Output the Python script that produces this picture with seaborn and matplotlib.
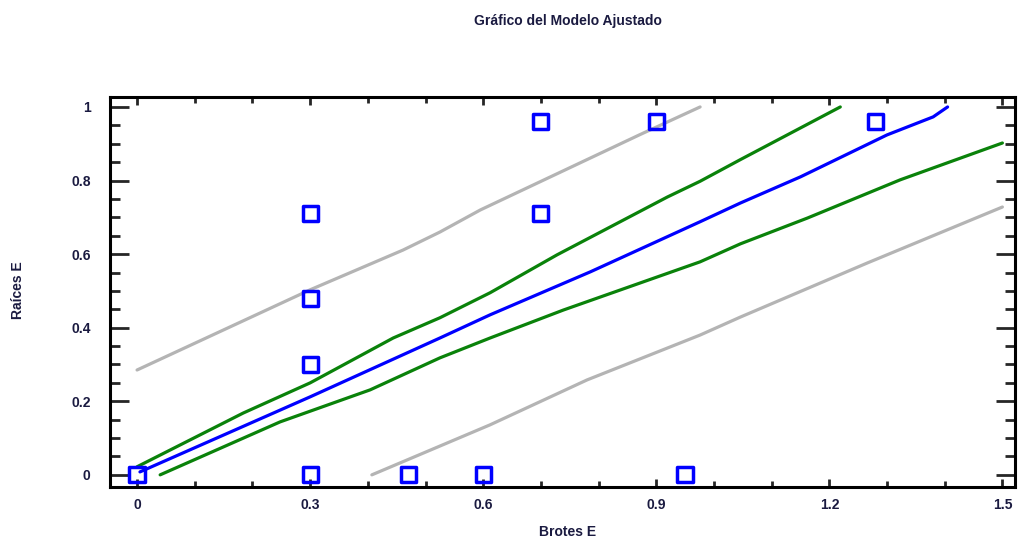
#!/usr/bin/env python
# -*- coding: utf-8 -*-
"""
Gráfico del Modelo Ajustado - Brotes E vs Raíces E
"""

import matplotlib
matplotlib.use("Agg")
import matplotlib.pyplot as plt
from matplotlib.ticker import MultipleLocator, FuncFormatter
import pandas as pd
import seaborn as sns

# =============================================
# 1. Datos
# =============================================
obs_x = [0.0, 0.3, 0.3, 0.3, 0.3, 0.47, 0.6, 0.7, 0.7, 0.9, 0.95, 1.28]
obs_y = [0.0, 0.0, 0.3, 0.48, 0.71, 0.0, 0.0, 0.71, 0.96, 0.96, 0.0, 0.96]

fit_x = [0.005, 0.30, 0.525, 0.612, 0.786, 0.976, 1.046, 1.15, 1.30, 1.38, 1.405]
fit_y = [0.008, 0.212, 0.372, 0.435, 0.552, 0.688, 0.739, 0.81, 0.924, 0.973, 1.0]

conf_hi_x = [0.0, 0.184, 0.30, 0.444, 0.525, 0.612, 0.728, 0.919, 0.976, 1.046, 1.092, 1.219]
conf_hi_y = [0.022, 0.168, 0.25, 0.372, 0.427, 0.495, 0.598, 0.755, 0.798, 0.857, 0.895, 1.0]

conf_lo_x = [0.04, 0.248, 0.404, 0.525, 0.612, 0.739, 0.976, 1.046, 1.162, 1.323, 1.5]
conf_lo_y = [0.0, 0.144, 0.231, 0.318, 0.372, 0.448, 0.579, 0.628, 0.698, 0.802, 0.902]

pred_hi_x = [0.0, 0.30, 0.461, 0.525, 0.595, 0.872, 0.976]
pred_hi_y = [0.285, 0.503, 0.611, 0.66, 0.72, 0.925, 1.0]

pred_lo_x = [0.407, 0.612, 0.78, 0.976, 1.046, 1.266, 1.5]
pred_lo_y = [0.0, 0.136, 0.258, 0.38, 0.429, 0.576, 0.728]

x_ticks = [0, 0.3, 0.6, 0.9, 1.2, 1.5]
y_ticks = [0, 0.2, 0.4, 0.6, 0.8, 1]

# =============================================
# 2. Estilo
# =============================================
sns.set_style("ticks")
plt.rcParams['font.family'] = ['Liberation Sans', 'DejaVu Sans']
plt.rcParams['font.weight'] = 'bold'

fig = plt.figure(figsize=(10.21, 5.42), dpi=100)
ax = fig.add_axes([0.1077, 0.1015, 0.8865, 0.7195])

# =============================================
# 3. Líneas
# =============================================
GRAY = "#b4b4b4"
GREEN = "#0a820a"
BLUE = "#0000ff"

for xs, ys, col in [(pred_hi_x, pred_hi_y, GRAY), (pred_lo_x, pred_lo_y, GRAY),
                    (conf_hi_x, conf_hi_y, GREEN), (conf_lo_x, conf_lo_y, GREEN),
                    (fit_x, fit_y, BLUE)]:
    df_line = pd.DataFrame({"x": xs, "y": ys})
    sns.lineplot(data=df_line, x="x", y="y", ax=ax, color=col, lw=2.3,
                 sort=False, estimator=None)

df_obs = pd.DataFrame({"x": obs_x, "y": obs_y})
sns.scatterplot(data=df_obs, x="x", y="y", ax=ax, marker="s", s=120,
                facecolors="none", edgecolor=BLUE, linewidth=2.5, zorder=5)

# =============================================
# 4. Ejes
# =============================================
ax.set_xlim(-0.047, 1.522)
ax.set_ylim(-0.033, 1.027)
ax.set_xticks(x_ticks)
ax.set_yticks(y_ticks)
ax.xaxis.set_minor_locator(MultipleLocator(0.1))
ax.yaxis.set_minor_locator(MultipleLocator(0.05))
fmt = FuncFormatter(lambda v, p: f"{v:g}")
ax.xaxis.set_major_formatter(fmt)
ax.yaxis.set_major_formatter(fmt)

ax.tick_params(axis="x", which="major", direction="in", length=6, width=2,
               top=True, bottom=True, labelsize=10, pad=8)
ax.tick_params(axis="x", which="minor", direction="in", length=4, width=2,
               top=True, bottom=True)
ax.tick_params(axis="y", which="major", direction="in", length=14, width=2,
               left=True, right=True, labelsize=10, pad=14)
ax.tick_params(axis="y", which="minor", direction="in", length=7, width=2,
               left=True, right=True)
for lab in ax.get_xticklabels() + ax.get_yticklabels():
    lab.set_fontweight("bold")
    lab.set_color("#1a1a40")

for sp in ax.spines.values():
    sp.set_visible(True)
    sp.set_linewidth(2.2)
    sp.set_color("black")

ax.set_xlabel("")
ax.set_ylabel("")
fig.text(0.556, 0.962, "Gráfico del Modelo Ajustado", ha="center", va="center",
         fontsize=10, fontweight="bold", color="#1a1a40")
fig.text(0.556, 0.018, "Brotes E", ha="center", va="center",
         fontsize=10, fontweight="bold", color="#1a1a40")
fig.text(0.018, 0.465, "Raíces E", ha="center", va="center", rotation=90,
         fontsize=10, fontweight="bold", color="#1a1a40")

fig.savefig("out.png", dpi=100)
